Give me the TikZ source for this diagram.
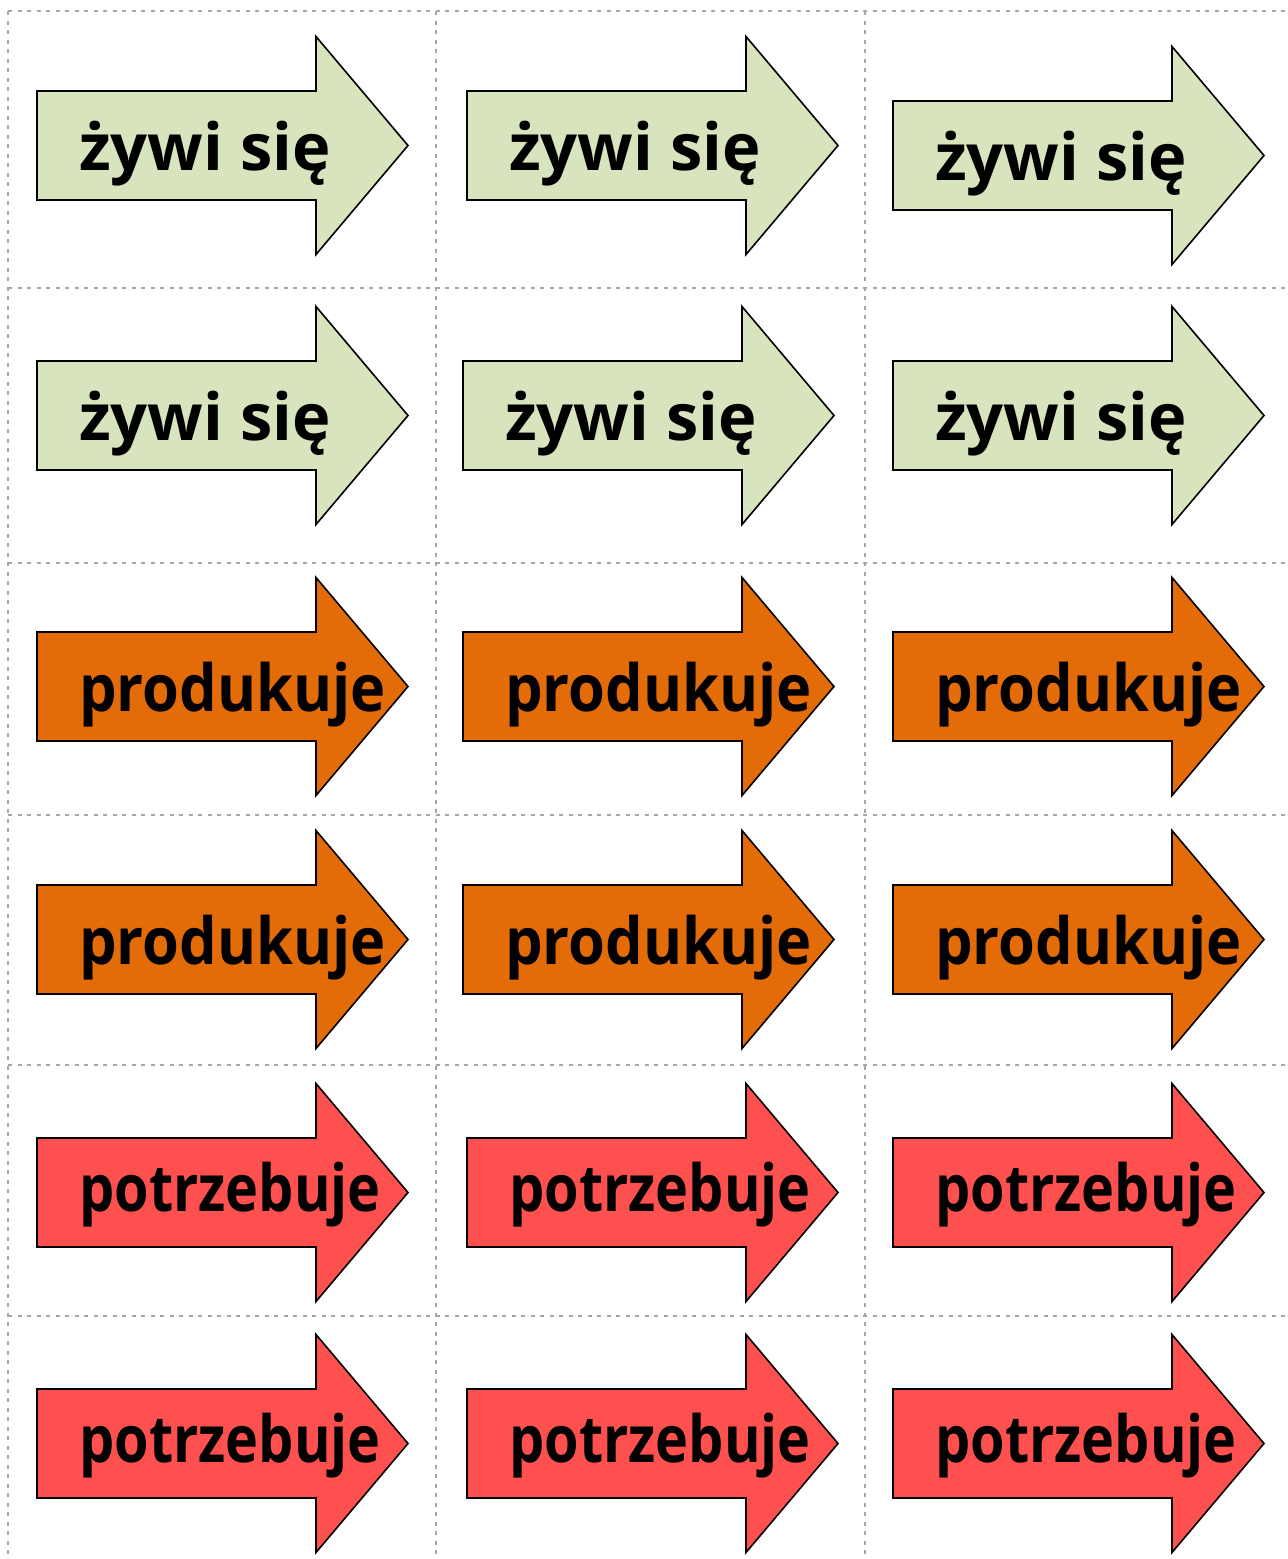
\documentclass[tikz,border=0pt]{standalone}
\usepackage{fontspec}
\setmainfont{Open Sans}
\newfontfamily\fzywi[FakeStretch=1.0]{Open Sans}
\newfontfamily\fprod[FakeStretch=0.916]{Open Sans}
\newfontfamily\fpotrz[FakeStretch=0.858]{Open Sans}
\definecolor{cgreen}{HTML}{D7E4BD}
\definecolor{corange}{HTML}{E36C09}
\definecolor{cred}{HTML}{FF5050}
\definecolor{cgrid}{HTML}{A6A6A6}
\tikzset{
  gridline/.style={draw=cgrid, line width=2pt, dash pattern=on 4pt off 5.5pt},
  arrowshape/.style={draw=black, line width=1.6pt, line join=miter},
  cardtext/.style={anchor=base west, inner sep=0pt, font=\fontsize{65}{75}\selectfont}
}
% #1 left x, #2 center y, #3 colour, #4 font, #5 text, #6 name, #7 baseline offset
\newcommand{\cardarrow}[7]{%
  \path[arrowshape, fill=#3] (#1,#2-54.5) -- ++(279,0) -- ++(0,-54.5) -- (#1+371,#2) -- (#1+279,#2+109) -- ++(0,-54.5) -- (#1,#2+54.5) -- cycle;
  \node[cardtext] (#6) at (#1+42,#2+#7) {#4\bfseries #5};
}
\begin{document}
\begin{tikzpicture}[x=1pt,y=-1pt]
\useasboundingbox (0,0) rectangle (1288,1559);
% grid
\foreach \yy in {11,288,563,815,1065,1316} {\draw[gridline] (8,\yy) -- (1288,\yy);}
\foreach \xx in {8,436,865} {\draw[gridline] (\xx,11) -- (\xx,1559);}
% row 1
\cardarrow{37}{145.5}{cgreen}{\fzywi}{żywi się}{a11}{24.5}
\cardarrow{467}{145.5}{cgreen}{\fzywi}{żywi się}{a12}{24.5}
\cardarrow{893}{155.5}{cgreen}{\fzywi}{żywi się}{a13}{24.5}
% row 2
\cardarrow{37}{415.5}{cgreen}{\fzywi}{żywi się}{a21}{24.5}
\cardarrow{463}{415.5}{cgreen}{\fzywi}{żywi się}{a22}{24.5}
\cardarrow{893}{415.5}{cgreen}{\fzywi}{żywi się}{a23}{24.5}
% row 3
\cardarrow{37}{686.5}{corange}{\fprod}{produkuje}{a31}{24.5}
\cardarrow{463}{686.5}{corange}{\fprod}{produkuje}{a32}{24.5}
\cardarrow{893}{686.5}{corange}{\fprod}{produkuje}{a33}{24.5}
% row 4
\cardarrow{37}{939.5}{corange}{\fprod}{produkuje}{a41}{24.5}
\cardarrow{463}{939.5}{corange}{\fprod}{produkuje}{a42}{24.5}
\cardarrow{893}{939.5}{corange}{\fprod}{produkuje}{a43}{24.5}
% row 5
\cardarrow{37}{1192.5}{cred}{\fpotrz}{potrzebuje}{a51}{19}
\cardarrow{467}{1192.5}{cred}{\fpotrz}{potrzebuje}{a52}{19}
\cardarrow{893}{1192.5}{cred}{\fpotrz}{potrzebuje}{a53}{19}
% row 6
\cardarrow{37}{1443.5}{cred}{\fpotrz}{potrzebuje}{a61}{19}
\cardarrow{467}{1443.5}{cred}{\fpotrz}{potrzebuje}{a62}{19}
\cardarrow{893}{1443.5}{cred}{\fpotrz}{potrzebuje}{a63}{19}
\end{tikzpicture}
\end{document}
